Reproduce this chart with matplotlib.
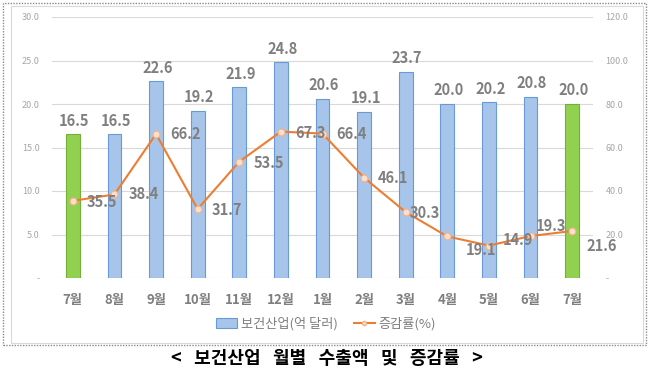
import matplotlib
matplotlib.use("Agg")
import matplotlib.pyplot as plt
from matplotlib.patches import Rectangle
from matplotlib.lines import Line2D
from matplotlib.patches import Patch

plt.rcParams['font.family'] = ['Noto Sans CJK KR', 'DejaVu Sans']

months = ["7월", "8월", "9월", "10월", "11월", "12월", "1월", "2월", "3월", "4월", "5월", "6월", "7월"]
exports = [16.5, 16.5, 22.6, 19.2, 21.9, 24.8, 20.6, 19.1, 23.7, 20.0, 20.2, 20.8, 20.0]
growth = [35.5, 38.4, 66.2, 31.7, 53.5, 67.3, 66.4, 46.1, 30.3, 19.1, 14.9, 19.3, 21.6]
left_ticks = [0, 5, 10, 15, 20, 25, 30]
left_tick_labels = ["-", "5.0", "10.0", "15.0", "20.0", "25.0", "30.0"]
right_ticks = [0, 20, 40, 60, 80, 100, 120]
right_tick_labels = ["-", "20.0", "40.0", "60.0", "80.0", "100.0", "120.0"]
legend_labels = ["보건산업(억 달러)", "증감률(%)"]
caption = "<   보건산업   월별   수출액   및   증감률   >"

W, H = 652, 373
fig = plt.figure(figsize=(W / 100, H / 100), dpi=100)

# frames
fig.add_artist(Rectangle((3 / W, 1 - 345 / H), 643 / W, 342 / H, transform=fig.transFigure,
                         fill=False, ec="#8C8C8C", lw=1.0, ls=(0, (1, 1))))
fig.add_artist(Rectangle((11 / W, 1 - 343 / H), 632 / W, 337 / H, transform=fig.transFigure,
                         fill=False, ec="#D9D9D9", lw=0.8))

ax = fig.add_axes([52 / W, 1 - 278 / H, (593 - 52) / W, (278 - 17) / H])
ax2 = ax.twinx()

x = list(range(len(months)))
blue_face = "#A7C5EA"
blue_edge = "#6A9AD3"
green_face = "#92D050"
green_edge = "#72B03A"
faces = [green_face if i in (0, len(months) - 1) else blue_face for i in x]
edges = [green_edge if i in (0, len(months) - 1) else blue_edge for i in x]
ax.bar(x, exports, width=0.33, color=faces, edgecolor=edges, linewidth=0.8, zorder=2)

ax.set_xlim(-0.5, len(months) - 0.5)
ax.set_ylim(0, 30)
ax2.set_ylim(0, 120)
ax.set_yticks(left_ticks)
ax.set_yticklabels(left_tick_labels)
ax2.set_yticks(right_ticks)
ax2.set_yticklabels(right_tick_labels)
ax.set_xticks(x)
ax.set_xticklabels(months)
for a in (ax, ax2):
    for s in a.spines.values():
        s.set_visible(False)
    a.tick_params(length=0, labelsize=6.5, labelcolor="#A6A6A6")
ax.tick_params(axis='y', pad=9)
ax2.tick_params(axis='y', pad=9)
ax.tick_params(axis='x', pad=11, labelsize=9.5, labelcolor="#7F7F7F")
for t in ax.get_xticklabels():
    t.set_fontweight('bold')
ax.grid(axis='y', color="#D9D9D9", lw=0.8, zorder=0)
ax.set_axisbelow(True)

ax2.plot(x, growth, color="#ED7D31", lw=1.5, marker='o', ms=5, mfc="#FBE0CF",
         mec="#F4B183", mew=0.8, zorder=3)

lab_color = "#7F7F7F"
for i, v in enumerate(exports):
    ax.annotate(f"{v:.1f}", (i, v), xytext=(1, 4), textcoords='offset points',
                ha='center', va='bottom', fontsize=10.5, fontweight='bold', color=lab_color)

line_offsets = [(10, -1), (10, 0), (10, 0), (10, -1), (10, -1), (10, -1), (10, 0),
                (10, 0), (3, -1), (13, -10), (10, 4), (4, 7), (10, -11)]
for i, v in enumerate(growth):
    dx, dy = line_offsets[i]
    ax2.annotate(f"{v:.1f}", (i, v), xytext=(dx, dy), textcoords='offset points',
                 ha='left', va='center', fontsize=10.5, fontweight='bold', color=lab_color,
                 zorder=4)

handles = [Patch(facecolor=blue_face, edgecolor=blue_edge, lw=0.8),
           Line2D([0], [0], color="#ED7D31", lw=1.5, marker='o', ms=3, mfc="#FBE0CF", mec="#F4B183")]
leg = fig.legend(handles, legend_labels, loc='center', bbox_to_anchor=(326 / W, 1 - 324 / H),
                 ncol=2, frameon=False, fontsize=9.5, labelcolor="#7F7F7F",
                 handlelength=1.6, handletextpad=0.3, columnspacing=1.2)

fig.text(327 / W, 1 - 358 / H, caption, ha='center', va='center', fontsize=13,
         fontweight='bold', color="black")

fig.savefig("out.png", dpi=100)
